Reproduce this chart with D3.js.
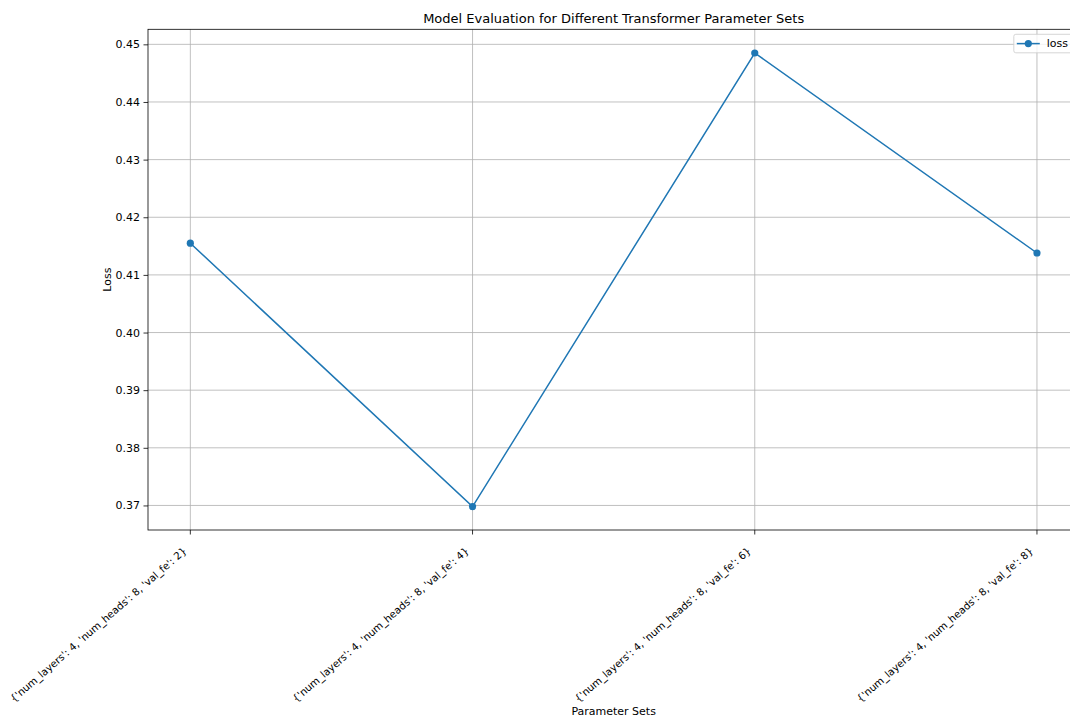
<!DOCTYPE html>
<html><head><meta charset="utf-8">
<script src="https://cdn.jsdelivr.net/npm/d3@7"></script>
<style>
html,body{margin:0;padding:0;overflow:hidden;background:#fff;}
text{font-family:"DejaVu Sans",sans-serif;fill:#000;}
</style></head>
<body><div id="chart"></div>
<script>
const categories = [
  "{'num_layers': 4, 'num_heads': 8, 'val_fe': 2}",
  "{'num_layers': 4, 'num_heads': 8, 'val_fe': 4}",
  "{'num_layers': 4, 'num_heads': 8, 'val_fe': 6}",
  "{'num_layers': 4, 'num_heads': 8, 'val_fe': 8}"
];
const lossValues = [0.4155, 0.3698, 0.4485, 0.4138];
const yTicks = [0.37, 0.38, 0.39, 0.40, 0.41, 0.42, 0.43, 0.44, 0.45];
const seriesName = "loss";
const titleText = "Model Evaluation for Different Transformer Parameter Sets";
const xLabel = "Parameter Sets";
const yLabel = "Loss";

const W = 1085, H = 718;
const m = {left:148, right:1079.3, top:29.3, bottom:530};
const svg = d3.select("#chart").append("svg").attr("width", W).attr("height", H);

// matplotlib margin: 5% of data range on each side
const x0 = d3.scaleLinear().domain([0 - 0.15, categories.length - 1 + 0.15]).range([m.left, m.right]);
const y = d3.scaleLinear().domain([0.36574, 0.45261]).range([m.bottom, m.top]);

const blue = "#1f77b4";
// grid
const g = svg.append("g");
g.selectAll(".hg").data(yTicks).join("line")
  .attr("x1", m.left).attr("x2", m.right)
  .attr("y1", d => y(d)).attr("y2", d => y(d))
  .attr("stroke", "#b0b0b0").attr("stroke-width", 0.8);
g.selectAll(".vg").data(categories).join("line")
  .attr("x1", (d,i) => x0(i)).attr("x2", (d,i) => x0(i))
  .attr("y1", m.top).attr("y2", m.bottom)
  .attr("stroke", "#b0b0b0").attr("stroke-width", 0.8);

// line
const line = d3.line().x((d,i) => x0(i)).y(d => y(d));
svg.append("path").datum(lossValues).attr("d", line)
  .attr("fill", "none").attr("stroke", blue).attr("stroke-width", 1.5);
svg.selectAll(".pt").data(lossValues).join("circle")
  .attr("cx", (d,i) => x0(i)).attr("cy", d => y(d)).attr("r", 3.6).attr("fill", blue);

// axes
const yAxis = d3.axisLeft(y).tickValues(yTicks).tickFormat(d3.format(".2f")).tickSize(4.5).tickPadding(3.5);
const ya = svg.append("g").attr("transform", `translate(${m.left},0)`).call(yAxis);
ya.select(".domain").remove();
ya.selectAll("line").attr("stroke", "#000").attr("stroke-width", 0.8);
ya.selectAll("text").attr("font-size", 11).attr("font-family", "DejaVu Sans");

const xa = svg.append("g").attr("transform", `translate(0,${m.bottom})`);
xa.selectAll("line").data(categories).join("line")
  .attr("x1", (d,i) => x0(i)).attr("x2", (d,i) => x0(i))
  .attr("y1", 0).attr("y2", 4.5).attr("stroke", "#000").attr("stroke-width", 0.8);
xa.selectAll("text").data(categories).join("text")
  .attr("transform", (d,i) => `translate(${x0(i)-3},${22}) rotate(-41)`)
  .attr("text-anchor", "end")
  .attr("font-size", 10.2).text(d => d);

// spines
svg.append("rect").attr("x", m.left).attr("y", m.top)
  .attr("width", m.right - m.left).attr("height", m.bottom - m.top)
  .attr("fill", "none").attr("stroke", "#000").attr("stroke-width", 0.8);

// labels
svg.append("text").attr("x", (m.left + m.right)/2).attr("y", 23)
  .attr("text-anchor", "middle").attr("font-size", 13).text(titleText);
svg.append("text").attr("x", (m.left + m.right)/2).attr("y", 715)
  .attr("text-anchor", "middle").attr("font-size", 11).text(xLabel);
svg.append("text").attr("transform", `translate(111,${(m.top+m.bottom)/2}) rotate(-90)`)
  .attr("text-anchor", "middle").attr("font-size", 11).text(yLabel);

// legend
const lg = svg.append("g").attr("transform", `translate(${m.right - 65.5},${m.top + 5})`);
lg.append("rect").attr("x", 0).attr("y", 0).attr("width", 60).attr("height", 18.5)
  .attr("rx", 2).attr("fill", "#fff").attr("fill-opacity", 0.8)
  .attr("stroke", "#cccccc").attr("stroke-width", 0.8);
lg.append("line").attr("x1", 3).attr("x2", 26).attr("y1", 9.3).attr("y2", 9.3)
  .attr("stroke", blue).attr("stroke-width", 1.5);
lg.append("circle").attr("cx", 14.5).attr("cy", 9.3).attr("r", 3.6).attr("fill", blue);
lg.append("text").attr("x", 33).attr("y", 13.2).attr("font-size", 11).text(seriesName);
</script>
</body></html>
